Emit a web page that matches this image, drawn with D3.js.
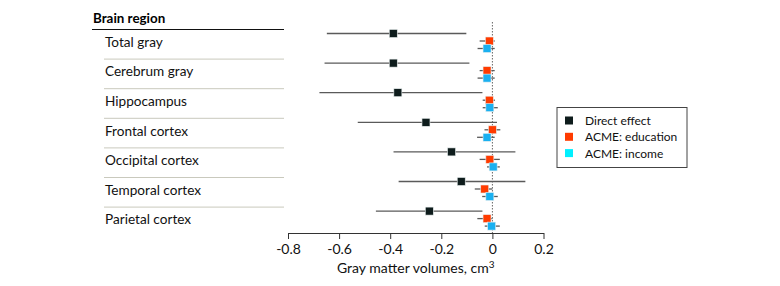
<!DOCTYPE html>
<html>
<head>
<meta charset="utf-8">
<script src="https://cdn.jsdelivr.net/npm/d3@7"></script>
<style>
  body { margin: 0; background: #fff; }
  svg { font-family: Lato, "Open Sans", sans-serif; }
</style>
</head>
<body>
<div id="chart"></div>
<script>
// regions, top to bottom
var regions = ["Total gray", "Cerebrum gray", "Hippocampus", "Frontal cortex", "Occipital cortex", "Temporal cortex", "Parietal cortex"];

// [estimate, lower, upper]
var directEffect = [
    [-0.388, -0.648, -0.102],
    [-0.388, -0.657, -0.090],
    [-0.370, -0.677, -0.039],
    [-0.260, -0.527, 0.018],
    [-0.160, -0.387, 0.090],
    [-0.122, -0.367, 0.129],
    [-0.247, -0.456, -0.039]
];
var acmeEducation = [
    [-0.012, -0.050, 0.009],
    [-0.021, -0.050, 0.009],
    [-0.012, -0.038, 0.010],
    [0.000, -0.031, 0.031],
    [-0.010, -0.050, 0.029],
    [-0.030, -0.069, 0.000],
    [-0.021, -0.059, 0.000]
];
var acmeIncome = [
    [-0.021, -0.058, 0.009],
    [-0.021, -0.058, 0.009],
    [-0.010, -0.038, 0.021],
    [-0.021, -0.060, 0.009],
    [0.003, -0.021, 0.029],
    [-0.010, -0.040, 0.021],
    [-0.003, -0.030, 0.029]
];
var xTicks = [-0.8, -0.6, -0.4, -0.2, 0, 0.2];
var seriesNames = ["Direct effect", "ACME: education", "ACME: income"];

const config = {
    width: 780,
    height: 286,
    rowTop: 29.5,
    rowStep: 29.6,
    markSize: 8
}
var seriesColors = ["#0e1c1c", "#ff3b00", "#1ab0f0"];
var legendColors = ["#0e1c1c", "#ff3b00", "#00f0ff"];
var seriesOffsets = [4, 11.5, 19];

var svg = d3.select('#chart').append('svg')
    .attr('width', config.width)
    .attr('height', config.height)

var xScale = d3.scaleLinear().domain([-0.8, 0.2]).range([288, 543.5])
var yScale = d3.scaleBand().domain(regions)
    .range([config.rowTop, config.rowTop + config.rowStep * regions.length])

// label panel
svg.append('text')
    .attr('x', 93).attr('y', 23)
    .style('font-size', '13.4px').style('font-weight', 'bold')
    .text('Brain region')
svg.append('line')
    .attr('x1', 92).attr('x2', 284)
    .attr('y1', config.rowTop).attr('y2', config.rowTop)
    .attr('stroke', '#111').attr('stroke-width', 1.2)

regions.forEach((r, i) => {
    var top = yScale(r)
    svg.append('text')
        .attr('x', 105).attr('y', top + yScale.bandwidth() / 2 + 2.5)
        .style('font-size', '13.6px').attr('fill', '#111')
        .text(r)
    if (i < regions.length - 1) {
        svg.append('line')
            .attr('x1', 104).attr('x2', 284)
            .attr('y1', top + yScale.bandwidth()).attr('y2', top + yScale.bandwidth())
            .attr('stroke', '#c9c9bd').attr('stroke-width', 1)
    }
})

// zero reference
svg.append('line')
    .attr('x1', xScale(0)).attr('x2', xScale(0))
    .attr('y1', 22).attr('y2', 233)
    .attr('stroke', '#666').attr('stroke-width', 1)
    .attr('stroke-dasharray', '1.5,1.5')

// x axis
var xAxis = d3.axisBottom(xScale).tickValues(xTicks)
    .tickFormat(d => d === 0 ? '0' : d3.format('.1f')(d).replace('\u2212', '-'))
    .tickSize(6).tickSizeOuter(0)
var gx = svg.append('g').attr('transform', 'translate(0,233)').call(xAxis)
gx.select('.domain').attr('stroke', '#333')
gx.selectAll('.tick line').attr('stroke', '#333')
gx.selectAll('.tick text').attr('fill', '#111')
    .style('font-size', '14px').style('font-family', 'Lato, "Open Sans", sans-serif')
    .attr('dy', '0.85em')

var axisTitle = svg.append('text')
    .attr('x', xScale(-0.3)).attr('y', 273)
    .attr('text-anchor', 'middle')
    .style('font-size', '14px').attr('fill', '#111')
axisTitle.append('tspan').text('Gray matter volumes, cm')
axisTitle.append('tspan').attr('dy', -5).style('font-size', '10px').text('3')

// series
var allSeries = [directEffect, acmeEducation, acmeIncome]
allSeries.forEach((series, s) => {
    var g = svg.append('g')
    g.selectAll('line')
        .data(series)
        .enter()
        .append('line')
        .attr('x1', d => xScale(d[1]))
        .attr('x2', d => xScale(d[2]))
        .attr('y1', (d, i) => yScale(regions[i]) + seriesOffsets[s])
        .attr('y2', (d, i) => yScale(regions[i]) + seriesOffsets[s])
        .attr('stroke', '#5a5a5a').attr('stroke-width', 1.3)
    g.selectAll('rect')
        .data(series)
        .enter()
        .append('rect')
        .attr('x', d => xScale(d[0]) - config.markSize / 2)
        .attr('y', (d, i) => yScale(regions[i]) + seriesOffsets[s] - config.markSize / 2)
        .attr('width', config.markSize)
        .attr('height', config.markSize)
        .attr('fill', seriesColors[s])
        .attr('stroke', '#e8eeee').attr('stroke-width', 0.6)
})

// legend
var legend = svg.append('g').attr('transform', 'translate(557,107.5)')
legend.append('rect')
    .attr('width', 130).attr('height', 60)
    .attr('fill', '#fff').attr('stroke', '#444').attr('stroke-width', 1)
seriesNames.forEach((name, i) => {
    legend.append('rect')
        .attr('x', 8).attr('y', 9 + i * 16.3)
        .attr('width', 8).attr('height', 8)
        .attr('fill', legendColors[i])
    legend.append('text')
        .attr('x', 28).attr('y', 17.5 + i * 16.3)
        .style('font-size', '12px').attr('fill', '#111')
        .text(name)
})
</script>
</body>
</html>
